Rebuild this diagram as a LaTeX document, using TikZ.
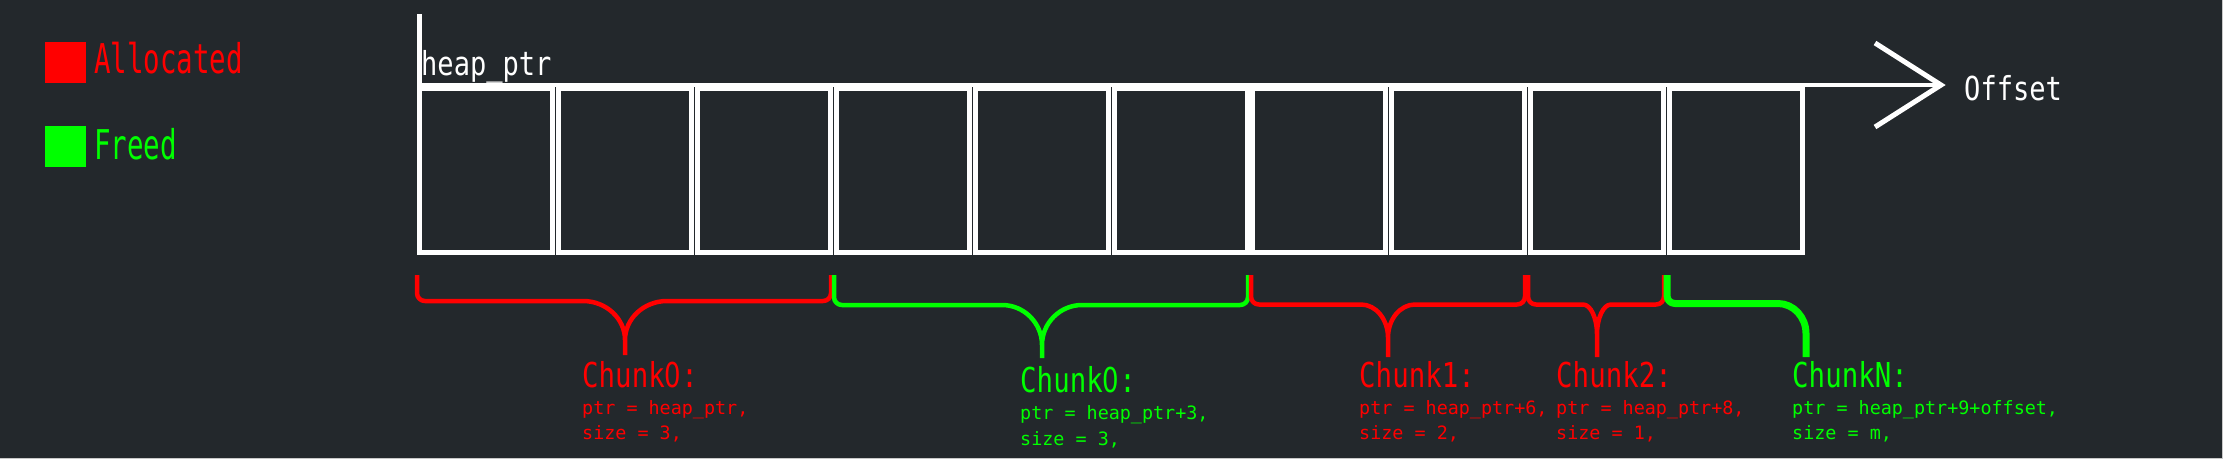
\documentclass[tikz,border=0pt]{standalone}
\usepackage{fontspec}
\newfontfamily\legendfont[FakeStretch=0.67]{DejaVu Sans Mono}
\newfontfamily\labelfont[FakeStretch=0.82]{DejaVu Sans Mono}
\newfontfamily\titlefont[FakeStretch=0.80]{DejaVu Sans Mono}
\newfontfamily\titlezero[FakeStretch=0.757]{DejaVu Sans}
\newfontfamily\notefont{DejaVu Sans Mono}
\definecolor{bg}{HTML}{23282C}
\definecolor{allocred}{HTML}{FF0000}
\definecolor{freegreen}{HTML}{00FF00}
\definecolor{edgegray}{HTML}{C8C8C8}
% #1 style, #2 xL, #3 xR, #4 xm, #5 s, #6 yh, #7 ytip, #8 v
\newcommand\mybrace[8]{%
  \draw[#1] (#2,275) -- (#2,#6-8) .. controls (#2,#6-3.5) and (#2+3.5,#6) .. (#2+8,#6)
    -- (#4-#5,#6) .. controls (#4-0.45*#5,#6) and (#4,#6+0.45*#8) .. (#4,#6+#8) -- (#4,#7)
    (#3,275) -- (#3,#6-8) .. controls (#3,#6-3.5) and (#3-3.5,#6) .. (#3-8,#6)
    -- (#4+#5,#6) .. controls (#4+0.45*#5,#6) and (#4,#6+0.45*#8) .. (#4,#6+#8) -- (#4,#7);}
\begin{document}
\begin{tikzpicture}[x=1pt,y=-1pt,
  cell/.style={draw=white, line width=5pt, minimum width=133pt, minimum height=164pt,
    inner sep=0pt, outer sep=0pt},
  axis/.style={draw=white, line width=4pt},
  ptrline/.style={draw=white, line width=5pt},
  wing/.style={draw=white, line width=5pt, line join=miter},
  legendbox/.style={minimum width=41pt, minimum height=41pt, inner sep=0pt, outer sep=0pt},
  legendtxt/.style={anchor=base west, inner sep=0pt, font=\legendfont\fontsize{41}{41}\selectfont},
  lbl/.style={anchor=base west, inner sep=0pt, text=white, font=\labelfont\fontsize{33}{33}\selectfont},
  title/.style={anchor=base west, inner sep=0pt, font=\titlefont\fontsize{34.3}{34.3}\selectfont},
  note/.style={anchor=base west, inner sep=0pt, font=\notefont\fontsize{18.4}{18.4}\selectfont},
  bracelw/.style={line width=4.5pt, line cap=butt, line join=round},
]
\useasboundingbox (0,0) rectangle (2223,459);
\fill[bg] (0,0) rectangle (2223,459);
\draw[edgegray, line width=1.5pt] (0,458.25) -- (2222.25,458.25) -- (2222.25,0);

% legend
\node[legendbox, fill=allocred] (sqalloc) at (65.5,62.5) {};
\node[legendbox, fill=freegreen] (sqfreed) at (65.5,146) {};
\node[legendtxt, text=allocred] (lalloc) at (94,73) {Allocated};
\node[legendtxt, text=freegreen] (lfreed) at (94,159) {Freed};

% cells
\foreach \k in {0,...,9} {
  \node[cell] (c\k) at ({486+138.9*\k},170.5) {};
}

% axis and pointer
\coordinate (origin) at (419.5,85);
\coordinate (tip) at (1941,85);
\coordinate (ptrtop) at (419.5,14);
\coordinate (wingtop) at (1875,43);
\coordinate (wingbot) at (1875,127);
\draw[axis] (origin) -- (tip);
\draw[ptrline] (ptrtop) -- (c0.north west);
\draw[wing] (wingtop) -- (tip) -- (wingbot);

\node[lbl] (hp) at (421,75) {heap\_ptr};
\node[lbl] (off) at (1964,100) {Offset};

% braces
\mybrace{allocred, bracelw}{417}{831}{625}{42}{301}{355}{39}
\mybrace{freegreen, bracelw}{834}{1248}{1042}{40}{305}{358}{40}
\mybrace{allocred, bracelw}{1251}{1525}{1388}{27}{304.5}{357}{33}
\mybrace{allocred, bracelw}{1528}{1664}{1597}{14}{304.5}{357}{30}
\draw[freegreen, line width=7pt, line cap=butt, line join=round]
  (1667,275) -- (1667,295.5) .. controls (1667,300) and (1670.5,303.5) .. (1675,303.5)
  -- (1778,303.5) .. controls (1793.4,303.5) and (1806,317) .. (1806,333.5) -- (1806,357);

% chunk labels
\node[title, text=allocred] (t0) at (582,387) {Chunk{\titlezero 0}:};
\node[note, text=allocred] (p0) at (582,414) {ptr = heap\_ptr,};
\node[note, text=allocred] (s0) at (582,439) {size = 3,};

\node[title, text=freegreen] (t1) at (1020,392) {Chunk{\titlezero 0}:};
\node[note, text=freegreen] (p1) at (1020,419.5) {ptr = heap\_ptr+3,};
\node[note, text=freegreen] (s1) at (1020,445) {size = 3,};

\node[title, text=allocred] (t2) at (1359,387) {Chunk1:};
\node[note, text=allocred] (p2) at (1359,414) {ptr = heap\_ptr+6,};
\node[note, text=allocred] (s2) at (1359,439) {size = 2,};

\node[title, text=allocred] (t3) at (1556,387) {Chunk2:};
\node[note, text=allocred] (p3) at (1556,414) {ptr = heap\_ptr+8,};
\node[note, text=allocred] (s3) at (1556,439) {size = 1,};

\node[title, text=freegreen] (t4) at (1792,387) {ChunkN:};
\node[note, text=freegreen] (p4) at (1792,414) {ptr = heap\_ptr+9+offset,};
\node[note, text=freegreen] (s4) at (1792,439) {size = m,};
\end{tikzpicture}
\end{document}
